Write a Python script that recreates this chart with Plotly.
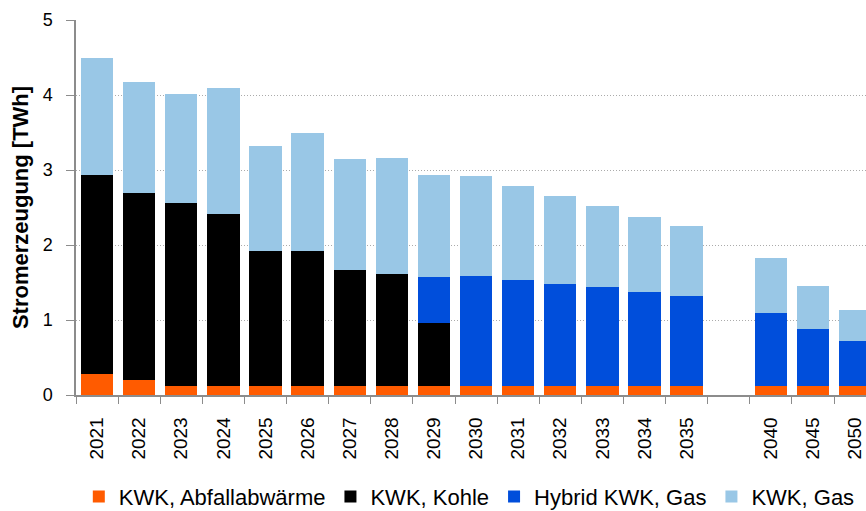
import plotly.graph_objects as go

# Years on the x axis; the blank entry leaves an empty slot between 2035 and 2040
years = ["2021", "2022", "2023", "2024", "2025", "2026", "2027", "2028", "2029",
         "2030", "2031", "2032", "2033", "2034", "2035", " ", "2040", "2045", "2050"]

# Electricity generation in TWh per technology
abfallabwaerme = [0.28, 0.20, 0.12, 0.12, 0.12, 0.12, 0.12, 0.12, 0.12,
                  0.12, 0.12, 0.12, 0.12, 0.12, 0.12, None, 0.12, 0.12, 0.12]
kohle = [2.65, 2.50, 2.44, 2.30, 1.80, 1.80, 1.55, 1.49, 0.84,
         0, 0, 0, 0, 0, 0, None, 0, 0, 0]
hybrid_gas = [0, 0, 0, 0, 0, 0, 0, 0, 0.61,
              1.47, 1.42, 1.36, 1.32, 1.25, 1.20, None, 0.97, 0.76, 0.60]
kwk_gas = [1.57, 1.48, 1.45, 1.67, 1.40, 1.57, 1.48, 1.55, 1.37,
           1.33, 1.25, 1.17, 1.08, 1.01, 0.93, None, 0.74, 0.57, 0.41]

series = [
    ("KWK, Abfallabwärme", abfallabwaerme, "#FF5B00"),
    ("KWK, Kohle", kohle, "#000000"),
    ("Hybrid KWK, Gas", hybrid_gas, "#004EDB"),
    ("KWK, Gas", kwk_gas, "#99C7E6"),
]

FONT = "Liberation Sans, Arial, sans-serif"

fig = go.Figure()
for name, vals, color in series:
    fig.add_trace(go.Bar(
        x=years, y=vals, name=name,
        marker=dict(color=color, line=dict(width=0)),
    ))

fig.update_layout(
    width=866, height=511,
    barmode="stack", bargap=0.23,
    paper_bgcolor="white", plot_bgcolor="white",
    margin=dict(l=76, r=0, t=20, b=116, autoexpand=False),
    font=dict(family=FONT, color="#000000"),
    legend=dict(
        orientation="h", traceorder="normal",
        xref="container", x=0.091, xanchor="left",
        yref="container", y=0.028, yanchor="middle",
        font=dict(size=22, family=FONT),
        itemwidth=30, itemclick=False,
    ),
)

fig.update_xaxes(
    type="category", categoryorder="array", categoryarray=years,
    range=[-0.5, 18.26],
    tickson="boundaries", ticks="outside", ticklen=7, tickcolor="#8C8C8C",
    showline=True, linecolor="#8C8C8C", linewidth=1.5,
    tickangle=-90, tickfont=dict(size=19, family=FONT),
    ticklabelstandoff=13,
    showgrid=False,
)

fig.update_yaxes(
    range=[0, 5], dtick=1, tick0=0,
    ticks="outside", ticklen=8, tickcolor="#8C8C8C",
    showline=True, linecolor="#8C8C8C", linewidth=1.5,
    tickfont=dict(size=18, family=FONT), ticklabelstandoff=10,
    showgrid=True, gridcolor="#ABABAB", griddash="1px,2px", gridwidth=1,
    zeroline=False,
    title=dict(text="Stromerzeugung [TWh]", standoff=8,
               font=dict(size=22, family=FONT, weight="bold")),
)

fig.write_html("out.html")
